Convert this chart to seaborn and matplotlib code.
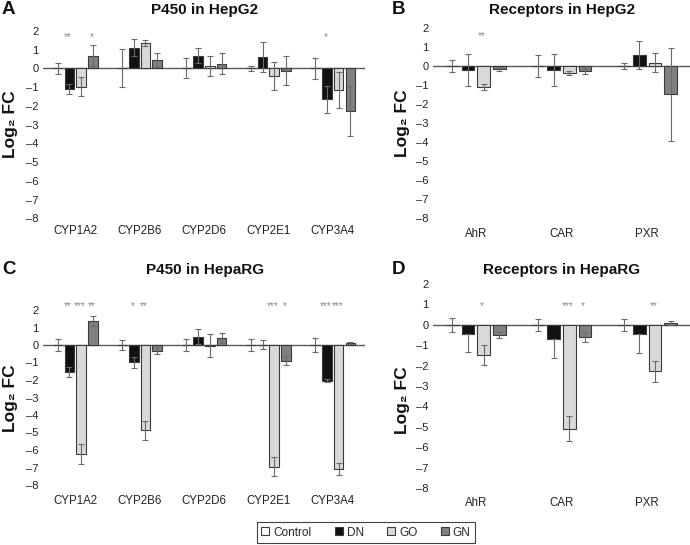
import matplotlib
matplotlib.use("Agg")
import matplotlib.pyplot as plt
from matplotlib.patches import Patch
import pandas as pd
import seaborn as sns

# ---------------- data ----------------
groups = ["Control", "DN", "GO", "GN"]
p450_genes = ["CYP1A2", "CYP2B6", "CYP2D6", "CYP2E1", "CYP3A4"]
receptor_genes = ["AhR", "CAR", "PXR"]
y_ticks = [2, 1, 0, -1, -2, -3, -4, -5, -6, -7, -8]

# A: P450 in HepG2
a_control = [0, 0, 0, 0, 0]
a_control_err = [0.30, 1.02, 0.53, 0.13, 0.55]
a_dn = [-1.12, 1.10, 0.67, 0.62, -1.66]
a_dn_err = [0.26, 0.45, 0.40, 0.80, 0.70]
a_go = [-0.98, 1.35, 0.14, -0.41, -1.16]
a_go_err = [0.52, 0.14, 0.53, 0.76, 0.97]
a_gn = [0.68, 0.43, 0.25, -0.14, -2.27]
a_gn_err = [0.56, 0.37, 0.56, 0.77, 1.35]
a_sig_dn = ["**", "", "", "", "*"]
a_sig_go = ["", "", "", "", ""]
a_sig_gn = ["*", "", "", "", ""]

# B: Receptors in HepG2
b_control = [0, 0, 0]
b_control_err = [0.29, 0.60, 0.15]
b_dn = [-0.22, -0.22, 0.59]
b_dn_err = [0.85, 0.83, 0.73]
b_go = [-1.12, -0.36, 0.16]
b_go_err = [0.16, 0.12, 0.50]
b_gn = [-0.17, -0.28, -1.49]
b_gn_err = [0.10, 0.15, 2.46]
b_sig_dn = ["", "", ""]
b_sig_go = ["**", "", ""]
b_sig_gn = ["", "", ""]

# C: P450 in HepaRG
c_control = [0, 0, 0, 0, 0]
c_control_err = [0.34, 0.30, 0.36, 0.35, 0.38]
c_dn = [-1.53, -0.99, 0.48, 0.02, -2.04]
c_dn_err = [0.28, 0.31, 0.42, 0.25, 0.10]
c_go = [-6.24, -4.87, -0.03, -6.95, -7.10]
c_go_err = [0.57, 0.53, 0.65, 0.53, 0.33]
c_gn = [1.37, -0.32, 0.38, -0.91, 0.10]
c_gn_err = [0.26, 0.22, 0.29, 0.26, 0.05]
c_sig_dn = ["**", "*", "", "", "***"]
c_sig_go = ["***", "**", "", "***", "***"]
c_sig_gn = ["**", "", "", "*", ""]

# D: Receptors in HepaRG
d_control = [0, 0, 0]
d_control_err = [0.33, 0.30, 0.30]
d_dn = [-0.45, -0.71, -0.46]
d_dn_err = [0.90, 0.91, 0.90]
d_dn_err_up = [0.0, 0.0, 0.0]
d_go = [-1.49, -5.09, -2.28]
d_go_err = [0.50, 0.62, 0.50]
d_gn = [-0.50, -0.61, 0.08]
d_gn_err = [0.15, 0.25, 0.10]
d_sig_dn = ["", "", ""]
d_sig_go = ["*", "***", "**"]
d_sig_gn = ["", "*", ""]

# ---------------- style ----------------
sns.set_theme(style="white")
plt.rcParams["font.family"] = ["Liberation Sans", "DejaVu Sans"]

colors = {"Control": "#ffffff", "DN": "#111111", "GO": "#d9d9d9", "GN": "#808080"}
W, H = 690, 545
fig = plt.figure(figsize=(W / 100, H / 100), dpi=100)


def px_axes(left, top, right, bottom):
    return fig.add_axes([left / W, 1 - bottom / H, (right - left) / W, (bottom - top) / H])


def draw_panel(ax, genes, means, errs, sigs, sig_y, label_pad, errs_up=None):
    rows = []
    for g in groups:
        for gene, v in zip(genes, means[g]):
            rows.append({"gene": gene, "group": g, "value": v})
    df = pd.DataFrame(rows)
    sns.barplot(data=df, x="gene", y="value", hue="group", order=genes,
                hue_order=groups, palette=colors, width=0.73, gap=0.18,
                errorbar=None, edgecolor="#3a3a3a", linewidth=0.8,
                legend=False, ax=ax, zorder=2)
    ax.axhline(0, color="#5a5a5a", lw=1.0, zorder=1.5)
    for i, g in enumerate(groups):
        cont = ax.containers[i]
        xs = [p.get_x() + p.get_width() / 2 for p in cont]
        lo = errs[g]
        hi = errs_up[g] if (errs_up is not None and g in errs_up) else errs[g]
        ax.errorbar(xs, means[g], yerr=[lo, hi], fmt="none", ecolor="#6a6a6a",
                    elinewidth=0.8, capsize=2.3, capthick=0.8, zorder=3)
        if g in sigs:
            for x, s in zip(xs, sigs[g]):
                if s:
                    ax.text(x - 0.02, sig_y, s, ha="center", va="center", fontsize=7.2,
                            color="#8a8a8a")
    ax.set_ylim(-8, 2)
    ax.set_xlim(-0.5, len(genes) - 0.5)
    ax.set_yticks(y_ticks)
    ax.set_yticklabels([str(t).replace("-", "\u2013") for t in y_ticks])
    ax.set_xlabel("")
    ax.set_ylabel("")
    for sp in ax.spines.values():
        sp.set_visible(False)
    ax.tick_params(axis="both", length=0, labelsize=8, colors="#222222")
    ax.tick_params(axis="y", pad=3)
    ax.tick_params(axis="x", pad=label_pad, labelsize=8.3)
    ax.set_facecolor("none")


axA = px_axes(43, 30.8, 365, 218.3)
axB = px_axes(433, 28, 690, 218)
axC = px_axes(43, 310, 365, 485)
axD = px_axes(433, 284, 690, 488)

draw_panel(axA, p450_genes,
           {"Control": a_control, "DN": a_dn, "GO": a_go, "GN": a_gn},
           {"Control": a_control_err, "DN": a_dn_err, "GO": a_go_err, "GN": a_gn_err},
           {"DN": a_sig_dn, "GO": a_sig_go, "GN": a_sig_gn}, 1.65, 5)
draw_panel(axB, receptor_genes,
           {"Control": b_control, "DN": b_dn, "GO": b_go, "GN": b_gn},
           {"Control": b_control_err, "DN": b_dn_err, "GO": b_go_err, "GN": b_gn_err},
           {"DN": b_sig_dn, "GO": b_sig_go, "GN": b_sig_gn}, 1.55, 7)
draw_panel(axC, p450_genes,
           {"Control": c_control, "DN": c_dn, "GO": c_go, "GN": c_gn},
           {"Control": c_control_err, "DN": c_dn_err, "GO": c_go_err, "GN": c_gn_err},
           {"DN": c_sig_dn, "GO": c_sig_go, "GN": c_sig_gn}, 2.2, 7.5)
draw_panel(axD, receptor_genes,
           {"Control": d_control, "DN": d_dn, "GO": d_go, "GN": d_gn},
           {"Control": d_control_err, "DN": d_dn_err, "GO": d_go_err, "GN": d_gn_err},
           {"DN": d_sig_dn, "GO": d_sig_go, "GN": d_sig_gn}, 0.9, 6.5,
           errs_up={"DN": d_dn_err_up})

# titles, panel letters, y labels
def ftext(x, y, s, **kw):
    fig.text(x / W, 1 - y / H, s, **kw)

title_kw = dict(ha="center", va="center", fontsize=11, fontweight="bold", color="#111111")
ftext(205, 10, "P450 in HepG2", **title_kw)
ftext(562, 10, "Receptors in HepG2", **title_kw)
ftext(205, 270, "P450 in HepaRG", **title_kw)
ftext(562, 270, "Receptors in HepaRG", **title_kw)

letter_kw = dict(ha="left", va="center", fontsize=13.5, fontweight="bold", color="#111111")
ftext(2, 10, "A", **letter_kw)
ftext(392, 10, "B", **letter_kw)
ftext(2, 270, "C", **letter_kw)
ftext(392, 270, "D", **letter_kw)

ylab_kw = dict(ha="center", va="center", rotation=90, fontsize=12.5,
               fontweight="bold", color="#111111")
ftext(11, 124, "Log\u2082 FC", **ylab_kw)
ftext(403, 123, "Log\u2082 FC", **ylab_kw)
ftext(11, 398, "Log\u2082 FC", **ylab_kw)
ftext(403, 400, "Log\u2082 FC", **ylab_kw)

handles = [Patch(facecolor=colors[g], edgecolor="#3a3a3a", linewidth=0.8, label=g)
           for g in groups]
leg = fig.legend(handles=handles, loc="center", ncol=4,
                 bbox_to_anchor=(366 / W, 1 - 532.5 / H), frameon=True,
                 fancybox=False, edgecolor="#111111", fontsize=8.5,
                 handlelength=0.65, handleheight=0.65, handletextpad=0.35,
                 columnspacing=2.0, borderpad=0.35)
leg.get_frame().set_linewidth(0.8)

fig.savefig("out.png", dpi=100)
